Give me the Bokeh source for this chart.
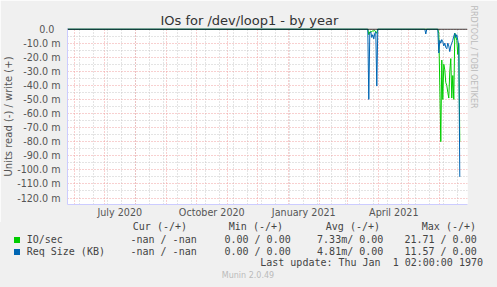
from datetime import datetime, timedelta
from bokeh.plotting import figure
from bokeh.layouts import column
from bokeh.models import (FixedTicker, CustomJSTickFormatter, DatetimeTickFormatter,
                          Range1d, Span, Title, Div)
from bokeh.embed import file_html
from bokeh.resources import INLINE

# ---------------- data (read side, in milli-units) ----------------
io_dates = ["2020-05-24", "2021-03-21", "2021-03-22", "2021-03-23", "2021-03-24", "2021-03-25",
            "2021-03-26", "2021-03-27", "2021-03-28", "2021-03-29", "2021-03-30", "2021-03-31",
            "2021-05-30", "2021-05-31", "2021-06-01", "2021-06-02", "2021-06-03", "2021-06-04",
            "2021-06-05", "2021-06-06", "2021-06-07", "2021-06-08", "2021-06-09", "2021-06-10",
            "2021-06-11", "2021-06-12", "2021-06-13", "2021-06-14", "2021-06-15", "2021-06-16",
            "2021-06-17", "2021-06-18", "2021-06-19", "2021-06-20", "2021-06-21"]
io_read = [0, 0, 4, 2, 1.5, 2, 1, 1.5, 1, 2, 3, 0,
           0, 3, 40, 80, 22, 50, 25, 29, 38, 40, 45, 49,
           30, 21, 49, 33, 50, 3, 5, 8, 18, 10, 80]

req_dates = ["2020-05-24", "2021-03-21", "2021-03-22", "2021-03-23", "2021-03-24", "2021-03-25",
             "2021-03-26", "2021-03-27", "2021-03-28", "2021-03-29", "2021-03-30", "2021-03-31",
             "2021-05-17", "2021-05-18", "2021-05-19",
             "2021-05-30", "2021-05-31", "2021-06-01", "2021-06-02", "2021-06-03", "2021-06-04",
             "2021-06-05", "2021-06-06", "2021-06-07", "2021-06-08", "2021-06-09", "2021-06-10",
             "2021-06-11", "2021-06-12", "2021-06-13", "2021-06-14", "2021-06-15", "2021-06-16",
             "2021-06-17", "2021-06-18", "2021-06-19", "2021-06-20", "2021-06-21"]
req_read = [0, 0, 50, 3, 2, 6, 4, 7, 3, 2, 40.5, 0,
            0, 3.5, 0,
            0, 17, 8, 10, 7.5, 9, 12, 10, 13, 14, 10, 12,
            16, 12, 10, 8, 5, 3, 6, 4, 8, 12, 105]

y_ticks = [0, -10, -20, -30, -40, -50, -60, -70, -80, -90, -100, -110, -120]
x_labels = ["2020-07-16", "2020-10-16", "2021-01-16", "2021-04-16"]

legend_names = ["IO/sec", "Req Size (KB)"]
legend_colors = ["#00CC00", "#0066B3"]
col_heads = ["Cur (-/+)", "Min (-/+)", "Avg (-/+)", "Max (-/+)"]
cur_vals = ["-nan / -nan", "-nan / -nan"]
min_vals = ["0.00 / 0.00", "0.00 / 0.00"]
avg_vals = ["7.33m/ 0.00", "4.81m/ 0.00"]
max_vals = ["21.71 / 0.00", "11.57 / 0.00"]
last_update = "Last update: Thu Jan  1 02:00:00 1970"
version = "Munin 2.0.49"

BG = "#F0F0F0"
W, H_TOP, H_BOT = 497, 222, 65


def d(s):
    return datetime.strptime(s, "%Y-%m-%d")


to_ms = lambda t: (t - datetime(1970, 1, 1)).total_seconds() * 1000.0

# ---------------- chart figure ----------------
p = figure(width=W, height=H_TOP, x_axis_type="datetime", output_backend="svg",
           toolbar_location=None,
           x_range=Range1d(datetime(2020, 5, 24, 17), datetime(2021, 6, 28, 17)),
           y_range=Range1d(-124.6, 0.4),
           min_border_left=67, min_border_right=30, min_border_top=28, min_border_bottom=18)
p.border_fill_color = BG
p.background_fill_color = "white"
p.outline_line_color = None

p.title = Title(text="IOs for /dev/loop1 - by year", align="left", offset=93,
                text_font="DejaVu Sans", text_font_size="13px", text_font_style="normal",
                text_color="#333333", standoff=2)
p.add_layout(Title(text="RRDTOOL / TOBI OETIKER", align="left", offset=-23,
                   text_font="DejaVu Sans", text_font_size="8px", text_font_style="normal",
                   text_color="#BBBBBB", standoff=2), "right")

# grids
month_starts = []
m = datetime(2020, 5, 1)
while m < datetime(2021, 8, 1):
    month_starts.append(m)
    m = datetime(m.year + (m.month // 12), m.month % 12 + 1, 1)
biweekly = []
w = datetime(2020, 5, 23)
while w < datetime(2021, 7, 10):
    biweekly.append(w)
    w += timedelta(days=14)
p.xgrid.ticker = FixedTicker(ticks=[to_ms(t) for t in month_starts],
                             minor_ticks=[to_ms(t) for t in biweekly])
p.ygrid.ticker = FixedTicker(ticks=y_ticks, minor_ticks=[t - 5 for t in y_ticks])
for g in (p.xgrid[0], p.ygrid[0]):
    g.grid_line_color = "#F0A0A0"
    g.grid_line_dash = "1 2"
    g.minor_grid_line_color = "#C8C8C8"
    g.minor_grid_line_dash = "1 2"

# axes
p.xaxis.ticker = FixedTicker(ticks=[to_ms(d(s)) for s in x_labels])
p.xaxis.formatter = DatetimeTickFormatter(months="%B %Y", days="%B %Y", years="%B %Y")
p.yaxis.ticker = FixedTicker(ticks=y_ticks)
p.yaxis.formatter = CustomJSTickFormatter(
    code="return tick == 0 ? '0.0\\u00a0\\u00a0' : tick.toFixed(1) + ' m';")
for ax in (p.xaxis[0], p.yaxis[0]):
    ax.axis_line_color = "#CCCCFF"
    ax.major_tick_line_color = None
    ax.minor_tick_line_color = None
    ax.major_tick_in = 0
    ax.major_tick_out = 0
    ax.minor_tick_in = 0
    ax.minor_tick_out = 0
    ax.major_label_text_font = "DejaVu Sans"
    ax.major_label_text_font_size = "9.6px"
    ax.major_label_text_color = "#555555"
p.xaxis.major_label_standoff = 2
p.yaxis.major_label_standoff = 7
p.yaxis.axis_label = "Units read (-) / write (+)"
p.yaxis.axis_label_text_font = "DejaVu Sans"
p.yaxis.axis_label_text_font_size = "10px"
p.yaxis.axis_label_text_font_style = "normal"
p.yaxis.axis_label_text_color = "#555555"
p.yaxis.axis_label_standoff = 0

# data lines
p.line([d(s) for s in io_dates], [-v for v in io_read], line_color=legend_colors[0], line_width=1)
p.line([d(s) for s in req_dates], [-v for v in req_read], line_color=legend_colors[1], line_width=1)

p.add_layout(Span(location=0, dimension="width", line_color="black", line_width=1))

# ---------------- legend / footer (HTML text, page pixel positions) ----------------
head_right = [187, 283, 380, 476]
val_right = [196.7, 290.7, 383.3, 476.7]
rows_y = [17.7, 29.7]
LH = 12


def span(txt, y, left=None, right=None, extra=""):
    pos = f"left:{left}px;" if left is not None else f"right:{W - right}px;"
    return (f"<span style='position:absolute;{pos}top:{y - LH / 2}px;"
            f"line-height:{LH}px;white-space:pre;{extra}'>{txt}</span>")


parts = []
for h, xr in zip(col_heads, head_right):
    parts.append(span(h, 5.3, right=xr))
for i in range(2):
    parts.append(f"<span style='position:absolute;left:14px;top:{rows_y[i] - 2.4}px;"
                 f"width:6px;height:6px;background:{legend_colors[i]};'></span>")
    parts.append(span(legend_names[i], rows_y[i], left=26.7))
    for vals, xr in zip([cur_vals, min_vals, avg_vals, max_vals], val_right):
        parts.append(span(vals[i], rows_y[i], right=xr))
parts.append(span(last_update, 41.3, right=483))
parts.append(span(version, 54, left=0, extra="width:496px;text-align:center;"
                  "font-family:DejaVu Sans;font-size:8px;color:#BBBBBB;"))

html = (f"<div style='position:relative;width:{W}px;height:{H_BOT}px;background:{BG};"
        f"font-family:DejaVu Sans Mono;font-size:10px;color:#444444;overflow:hidden;'>"
        + "".join(parts) + "</div>")
footer = Div(text=html, width=W, height=H_BOT, margin=(0, 0, 0, 0),
             styles={"background-color": BG})

layout = column(p, footer, spacing=0)
open("out.html", "w").write(file_html(layout, INLINE))
